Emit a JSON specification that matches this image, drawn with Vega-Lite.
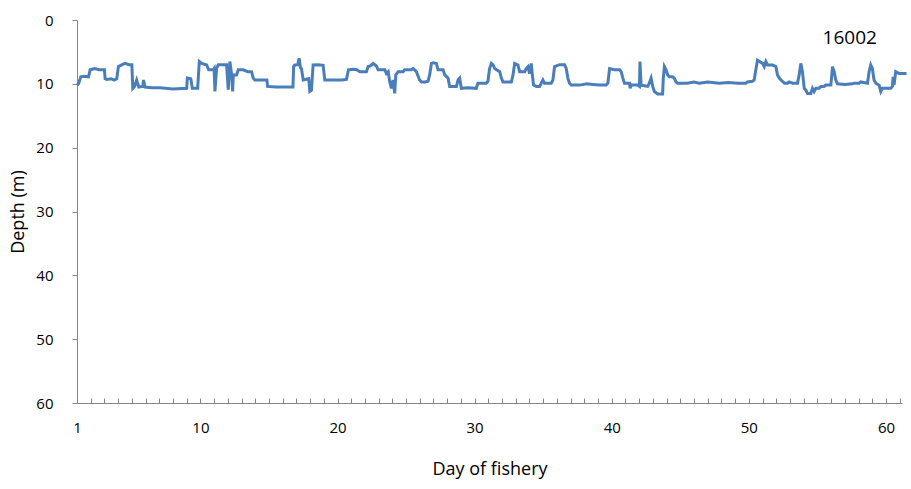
{
  "$schema": "https://vega.github.io/schema/vega-lite/v6.json",
  "width": 825,
  "height": 383,
  "autosize": "none",
  "padding": {"left": 77, "top": 20, "right": 9, "bottom": 86},
  "background": "white",
  "config": {
    "view": {"stroke": null},
    "font": "Open Sans",
    "axis": {"grid": false, "domainColor": "#868686", "tickColor": "#868686", "labelColor": "#000000", "titleColor": "#000000", "labelFont": "Open Sans", "titleFont": "Open Sans", "titleFontWeight": "normal", "labelFontSize": 15, "titleFontSize": 17}
  },
  "datasets": {
    "depth": [
      {"day": 1.0, "depth": 10.2}, {"day": 1.11, "depth": 10.0}, {"day": 1.28, "depth": 8.9}, {"day": 1.5, "depth": 8.8}, {"day": 1.84, "depth": 8.9}, {"day": 1.96, "depth": 7.8}, {"day": 2.3, "depth": 7.6}, {"day": 2.6, "depth": 7.8}, {"day": 3.0, "depth": 7.8}, {"day": 3.05, "depth": 9.2}, {"day": 3.17, "depth": 9.3}, {"day": 3.5, "depth": 9.2}, {"day": 3.7, "depth": 9.4}, {"day": 3.9, "depth": 9.2}, {"day": 4.02, "depth": 7.3}, {"day": 4.3, "depth": 7.0}, {"day": 4.5, "depth": 6.8}, {"day": 4.8, "depth": 7.0}, {"day": 5.0, "depth": 7.0}, {"day": 5.07, "depth": 10.7}, {"day": 5.2, "depth": 10.4}, {"day": 5.35, "depth": 9.4}, {"day": 5.5, "depth": 10.5}, {"day": 5.8, "depth": 10.4}, {"day": 5.85, "depth": 9.4}, {"day": 5.96, "depth": 10.5}, {"day": 6.5, "depth": 10.6}, {"day": 7.06, "depth": 10.6}, {"day": 8.0, "depth": 10.8}, {"day": 9.0, "depth": 10.7}, {"day": 9.05, "depth": 9.1}, {"day": 9.3, "depth": 9.2}, {"day": 9.41, "depth": 10.7}, {"day": 9.8, "depth": 10.7}, {"day": 9.92, "depth": 6.5}, {"day": 10.1, "depth": 6.8}, {"day": 10.46, "depth": 7.05}, {"day": 10.6, "depth": 7.8}, {"day": 10.94, "depth": 7.8},
      {"day": 11.0, "depth": 7.6}, {"day": 11.06, "depth": 11.2}, {"day": 11.18, "depth": 7.6}, {"day": 11.3, "depth": 7.0}, {"day": 11.6, "depth": 7.0}, {"day": 11.91, "depth": 7.0}, {"day": 12.03, "depth": 10.9}, {"day": 12.15, "depth": 6.5}, {"day": 12.28, "depth": 8.6}, {"day": 12.35, "depth": 11.2}, {"day": 12.4, "depth": 8.6}, {"day": 12.64, "depth": 8.6}, {"day": 12.76, "depth": 7.8}, {"day": 13.13, "depth": 7.8}, {"day": 13.45, "depth": 8.1}, {"day": 13.73, "depth": 8.1}, {"day": 13.85, "depth": 9.1}, {"day": 13.97, "depth": 9.4}, {"day": 14.5, "depth": 9.4}, {"day": 14.85, "depth": 9.4}, {"day": 14.9, "depth": 10.4}, {"day": 15.5, "depth": 10.5}, {"day": 16.2, "depth": 10.5}, {"day": 16.75, "depth": 10.5}, {"day": 16.8, "depth": 7.3}, {"day": 16.89, "depth": 7.05}, {"day": 17.1, "depth": 7.0}, {"day": 17.2, "depth": 6.0}, {"day": 17.3, "depth": 7.5}, {"day": 17.37, "depth": 7.6}, {"day": 17.5, "depth": 9.4}, {"day": 17.9, "depth": 9.2}, {"day": 17.98, "depth": 11.2}, {"day": 18.1, "depth": 11.0}, {"day": 18.22, "depth": 7.05}, {"day": 18.6, "depth": 7.0}, {"day": 18.95, "depth": 7.1}, {"day": 19.07, "depth": 9.4}, {"day": 19.8, "depth": 9.4}, {"day": 20.3, "depth": 9.4}, {"day": 20.65, "depth": 9.3}, {"day": 20.8, "depth": 7.8}, {"day": 21.14, "depth": 7.7},
      {"day": 21.4, "depth": 7.8}, {"day": 21.63, "depth": 8.1}, {"day": 22.11, "depth": 8.1}, {"day": 22.23, "depth": 7.3}, {"day": 22.4, "depth": 7.2}, {"day": 22.6, "depth": 6.8}, {"day": 22.84, "depth": 7.2}, {"day": 22.96, "depth": 7.8}, {"day": 23.2, "depth": 7.8}, {"day": 23.45, "depth": 7.8}, {"day": 23.57, "depth": 8.4}, {"day": 23.7, "depth": 8.1}, {"day": 23.81, "depth": 9.7}, {"day": 23.93, "depth": 10.7}, {"day": 24.05, "depth": 9.4}, {"day": 24.17, "depth": 11.5}, {"day": 24.25, "depth": 8.6}, {"day": 24.42, "depth": 8.1}, {"day": 24.78, "depth": 8.1}, {"day": 24.9, "depth": 7.8}, {"day": 25.2, "depth": 7.8}, {"day": 25.39, "depth": 7.8}, {"day": 25.51, "depth": 7.6}, {"day": 25.75, "depth": 8.1}, {"day": 25.99, "depth": 9.4}, {"day": 26.12, "depth": 9.7}, {"day": 26.4, "depth": 9.7}, {"day": 26.6, "depth": 9.6}, {"day": 26.72, "depth": 8.6}, {"day": 26.85, "depth": 6.8}, {"day": 27.0, "depth": 6.7}, {"day": 27.21, "depth": 6.8}, {"day": 27.33, "depth": 7.8}, {"day": 27.7, "depth": 7.8}, {"day": 27.82, "depth": 8.6}, {"day": 28.06, "depth": 9.1}, {"day": 28.18, "depth": 10.4}, {"day": 28.4, "depth": 10.4}, {"day": 28.67, "depth": 10.4}, {"day": 28.79, "depth": 9.4}, {"day": 28.91, "depth": 9.1}, {"day": 29.03, "depth": 10.7}, {"day": 29.5, "depth": 10.6}, {"day": 30.12, "depth": 10.7}, {"day": 30.24, "depth": 9.9}, {"day": 30.6, "depth": 9.9}, {"day": 30.85, "depth": 9.9}, {"day": 30.97, "depth": 9.6}, {"day": 31.09, "depth": 7.6}, {"day": 31.22, "depth": 6.8}, {"day": 31.34, "depth": 7.0},
      {"day": 31.46, "depth": 7.6}, {"day": 31.83, "depth": 8.1}, {"day": 31.95, "depth": 9.1}, {"day": 32.07, "depth": 9.7}, {"day": 32.4, "depth": 9.7}, {"day": 32.68, "depth": 9.7}, {"day": 32.8, "depth": 8.6}, {"day": 32.92, "depth": 6.8}, {"day": 33.16, "depth": 7.05}, {"day": 33.28, "depth": 8.1}, {"day": 33.65, "depth": 8.1}, {"day": 33.77, "depth": 7.6}, {"day": 33.89, "depth": 7.3}, {"day": 34.01, "depth": 8.4}, {"day": 34.13, "depth": 6.8}, {"day": 34.2, "depth": 8.4}, {"day": 34.3, "depth": 10.2}, {"day": 34.5, "depth": 10.4}, {"day": 34.74, "depth": 10.4}, {"day": 34.86, "depth": 9.9}, {"day": 34.98, "depth": 9.4}, {"day": 35.1, "depth": 9.9}, {"day": 35.59, "depth": 9.9}, {"day": 35.71, "depth": 9.4}, {"day": 35.83, "depth": 7.3}, {"day": 36.2, "depth": 7.0}, {"day": 36.56, "depth": 7.0}, {"day": 36.68, "depth": 7.6}, {"day": 36.8, "depth": 9.1}, {"day": 36.92, "depth": 9.9}, {"day": 37.05, "depth": 10.2}, {"day": 37.65, "depth": 10.2}, {"day": 38.2, "depth": 10.0}, {"day": 38.62, "depth": 10.1}, {"day": 39.1, "depth": 10.2}, {"day": 39.59, "depth": 10.2}, {"day": 39.72, "depth": 9.9}, {"day": 39.84, "depth": 7.6}, {"day": 40.2, "depth": 7.8}, {"day": 40.57, "depth": 7.8}, {"day": 40.69, "depth": 8.1}, {"day": 40.81, "depth": 9.1}, {"day": 40.93, "depth": 9.9}, {"day": 41.3, "depth": 9.9}, {"day": 41.34, "depth": 10.7}, {"day": 41.42, "depth": 10.2}, {"day": 41.54, "depth": 10.2},
      {"day": 41.89, "depth": 10.2}, {"day": 42.02, "depth": 10.4}, {"day": 42.06, "depth": 6.5}, {"day": 42.14, "depth": 10.2}, {"day": 42.4, "depth": 10.3}, {"day": 42.62, "depth": 10.4}, {"day": 42.74, "depth": 9.9}, {"day": 42.87, "depth": 9.1}, {"day": 42.99, "depth": 10.4}, {"day": 43.11, "depth": 11.2}, {"day": 43.35, "depth": 11.6}, {"day": 43.71, "depth": 11.6}, {"day": 43.76, "depth": 9.1}, {"day": 43.84, "depth": 7.3}, {"day": 43.96, "depth": 7.8}, {"day": 44.08, "depth": 8.6}, {"day": 44.2, "depth": 8.9}, {"day": 44.44, "depth": 8.9}, {"day": 44.56, "depth": 9.1}, {"day": 44.69, "depth": 9.7}, {"day": 44.81, "depth": 9.9}, {"day": 45.5, "depth": 9.9}, {"day": 46.0, "depth": 9.7}, {"day": 46.39, "depth": 9.9}, {"day": 47.0, "depth": 9.7}, {"day": 47.84, "depth": 9.9}, {"day": 48.5, "depth": 9.8}, {"day": 49.2, "depth": 9.9}, {"day": 49.78, "depth": 9.9}, {"day": 49.9, "depth": 9.7}, {"day": 50.27, "depth": 9.6}, {"day": 50.39, "depth": 9.4}, {"day": 50.51, "depth": 7.8}, {"day": 50.63, "depth": 6.3}, {"day": 51.0, "depth": 6.8}, {"day": 51.12, "depth": 7.3}, {"day": 51.24, "depth": 6.5}, {"day": 51.36, "depth": 7.05}, {"day": 51.73, "depth": 7.05},
      {"day": 51.97, "depth": 7.3}, {"day": 52.09, "depth": 8.6}, {"day": 52.22, "depth": 9.1}, {"day": 52.34, "depth": 9.4}, {"day": 52.6, "depth": 9.9}, {"day": 52.82, "depth": 9.9}, {"day": 52.94, "depth": 9.7}, {"day": 53.2, "depth": 9.9}, {"day": 53.55, "depth": 9.9}, {"day": 53.67, "depth": 8.6}, {"day": 53.79, "depth": 6.8}, {"day": 53.91, "depth": 8.1}, {"day": 54.04, "depth": 10.7}, {"day": 54.16, "depth": 11.0}, {"day": 54.28, "depth": 11.5}, {"day": 54.52, "depth": 11.5}, {"day": 54.64, "depth": 10.7}, {"day": 54.76, "depth": 11.2}, {"day": 54.89, "depth": 10.7}, {"day": 55.13, "depth": 10.7}, {"day": 55.25, "depth": 10.4}, {"day": 55.49, "depth": 10.4}, {"day": 55.61, "depth": 10.2}, {"day": 55.98, "depth": 10.2}, {"day": 56.05, "depth": 8.6}, {"day": 56.1, "depth": 7.3}, {"day": 56.22, "depth": 8.1}, {"day": 56.34, "depth": 9.4}, {"day": 56.46, "depth": 10.0}, {"day": 57.0, "depth": 10.1}, {"day": 57.56, "depth": 10.0}, {"day": 57.68, "depth": 9.9}, {"day": 58.04, "depth": 9.9}, {"day": 58.16, "depth": 9.7}, {"day": 58.65, "depth": 9.9}, {"day": 58.77, "depth": 8.1}, {"day": 58.89, "depth": 7.05}, {"day": 59.01, "depth": 7.6}, {"day": 59.13, "depth": 9.4}, {"day": 59.26, "depth": 9.9}, {"day": 59.5, "depth": 10.2}, {"day": 59.62, "depth": 11.2}, {"day": 59.74, "depth": 10.7}, {"day": 60.35, "depth": 10.7}, {"day": 60.47, "depth": 10.4}, {"day": 60.52, "depth": 8.9}, {"day": 60.59, "depth": 10.2}, {"day": 60.71, "depth": 8.1}, {"day": 60.96, "depth": 8.4}, {"day": 61.2, "depth": 8.4}, {"day": 61.5, "depth": 8.4}
    ],
    "label": [{"day": 57.36, "depth": 2.82, "text": "16002"}]
  },
  "layer": [
    {
      "data": {"name": "depth"},
      "mark": {"type": "line", "color": "#4a7ebb", "strokeWidth": 3, "clip": false},
      "encoding": {
        "x": {
          "field": "day", "type": "quantitative",
          "scale": {"domain": [1, 61.17], "nice": false, "zero": false},
          "axis": {
            "title": "Day of fishery",
            "values": [1,2,3,4,5,6,7,8,9,10,11,12,13,14,15,16,17,18,19,20,21,22,23,24,25,26,27,28,29,30,31,32,33,34,35,36,37,38,39,40,41,42,43,44,45,46,47,48,49,50,51,52,53,54,55,56,57,58,59,60,61],
            "tickCount": 200,
            "format": "d",
            "labelExpr": "(datum.value == 1 || datum.value % 10 == 0) ? datum.label : ''",
            "labelOverlap": false,
            "labelFlush": false,
            "tickSize": -5,
            "labelPadding": 22,
            "titlePadding": 25,
            "titleFontSize": 18
          }
        },
        "y": {
          "field": "depth", "type": "quantitative",
          "scale": {"domain": [0, 60], "reverse": true, "nice": false},
          "axis": {
            "title": "Depth (m)",
            "values": [0, 10, 20, 30, 40, 50, 60],
            "tickCount": 20,
            "format": "d",
            "tickSize": 5,
            "labelPadding": 19,
            "labelFlush": false,
            "titlePadding": 8,
            "titleFontSize": 18
          }
        }
      }
    },
    {
      "data": {"name": "label"},
      "mark": {"type": "text", "fontSize": 19, "font": "Open Sans", "color": "#000000", "align": "center", "baseline": "middle"},
      "encoding": {
        "x": {"field": "day", "type": "quantitative"},
        "y": {"field": "depth", "type": "quantitative"},
        "text": {"field": "text"}
      }
    }
  ]
}
